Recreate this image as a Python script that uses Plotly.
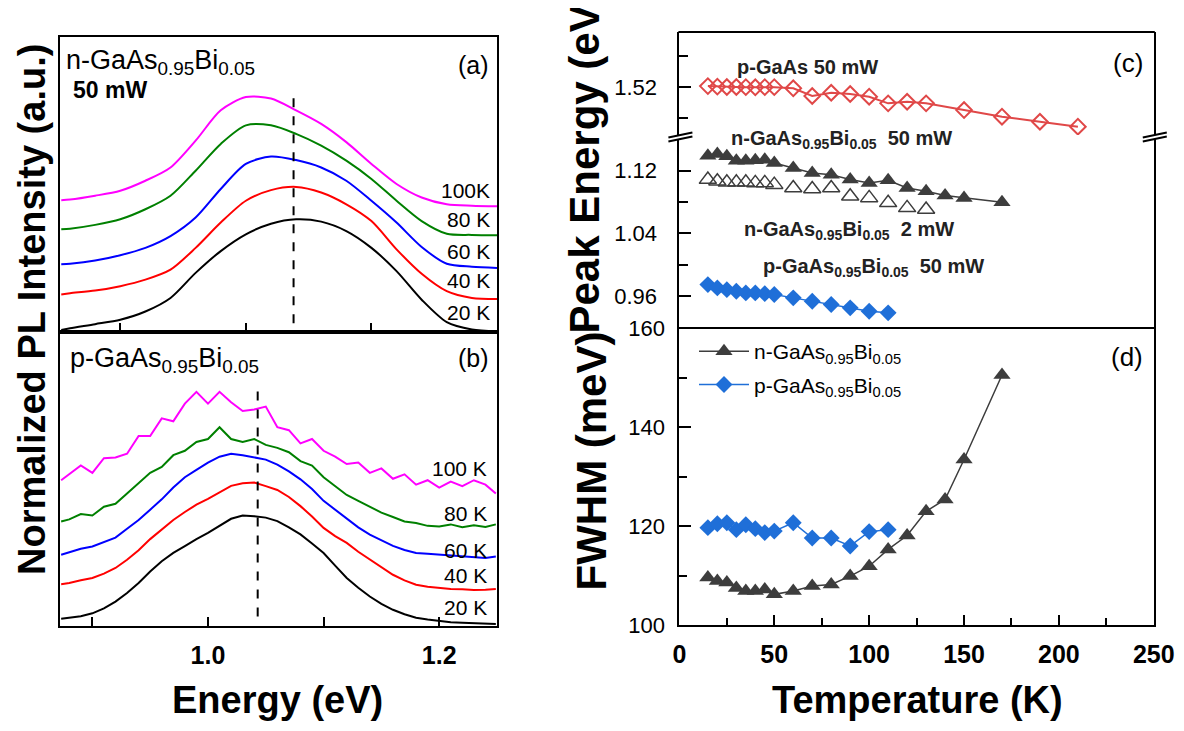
import plotly.graph_objects as go

W, H = 1184, 731
OFF = 8  # the page body margin shifts the figure by this many pixels
FONT = "Liberation Sans, Arial, Helvetica, sans-serif"

# ---------------- panel (a): n-GaAsBi PL spectra (normalized, offset) ----------------
E_a = [0.853, 0.86, 0.88, 0.90, 0.92, 0.94, 0.96, 0.98, 1.00, 1.02, 1.04, 1.06, 1.08,
       1.10, 1.12, 1.14, 1.16, 1.18, 1.20]
a_20K = [0.05, 0.11, 0.25, 0.40, 0.68, 1.14, 1.99, 2.73, 3.30, 3.66, 3.81, 3.73, 3.41,
         2.84, 2.05, 1.08, 0.32, 0.07, 0.0]
a_40K = [1.26, 1.30, 1.39, 1.54, 1.76, 2.10, 2.84, 3.70, 4.44, 4.80, 4.91, 4.72, 4.32,
         3.75, 2.79, 1.96, 1.37, 1.14, 1.10]
a_60K = [2.28, 2.30, 2.41, 2.59, 2.84, 3.24, 3.87, 4.84, 5.69, 5.94, 5.82, 5.57, 5.12,
         4.44, 3.70, 2.87, 2.30, 2.20, 2.16]
a_80K = [3.47, 3.49, 3.62, 3.81, 4.15, 4.61, 5.46, 6.37, 7.00, 7.00, 6.71, 6.31, 5.80,
         5.18, 4.44, 3.75, 3.32, 3.28, 3.27]
a_100K = [4.46, 4.48, 4.61, 4.78, 5.12, 5.57, 6.48, 7.51, 7.96, 7.91, 7.51, 7.05, 6.43,
          5.69, 5.01, 4.55, 4.32, 4.27, 4.25]
dash_a_E = [1.038, 1.038]
dash_a_I = [0.28, 8.19]

# ---------------- panel (b): p-GaAsBi PL spectra ----------------
E_b = [0.873, 0.88, 0.89, 0.90, 0.91, 0.92, 0.93, 0.94, 0.95, 0.96, 0.97, 0.98, 0.99,
       1.00, 1.01, 1.02, 1.03, 1.04, 1.05, 1.06, 1.07, 1.08, 1.09, 1.10, 1.11, 1.12,
       1.13, 1.14, 1.15, 1.16, 1.17, 1.18, 1.19, 1.20, 1.21, 1.22, 1.23, 1.24, 1.249]
b_20K = [0.25, 0.28, 0.33, 0.43, 0.60, 0.83, 1.12, 1.46, 1.85, 2.20, 2.48, 2.71, 2.95,
         3.16, 3.40, 3.64, 3.75, 3.73, 3.68, 3.56, 3.35, 3.11, 2.80, 2.48, 2.05, 1.63,
         1.30, 1.00, 0.75, 0.55, 0.40, 0.28, 0.22, 0.17, 0.13, 0.11, 0.09, 0.07, 0.07]
b_40K = [1.42, 1.46, 1.55, 1.63, 1.78, 1.97, 2.25, 2.57, 2.95, 3.28, 3.60, 3.87, 4.12,
         4.32, 4.55, 4.76, 4.85, 4.87, 4.75, 4.62, 4.38, 4.07, 3.72, 3.33, 3.05, 2.82,
         2.52, 2.25, 1.98, 1.74, 1.55, 1.40, 1.33, 1.29, 1.26, 1.25, 1.22, 1.23, 1.26]
b_60K = [2.42, 2.50, 2.62, 2.70, 2.85, 3.00, 3.30, 3.60, 3.95, 4.30, 4.70, 5.05, 5.30,
         5.55, 5.75, 5.85, 5.80, 5.72, 5.65, 5.48, 5.25, 4.98, 4.65, 4.25, 3.95, 3.62,
         3.35, 3.10, 2.90, 2.72, 2.58, 2.48, 2.45, 2.42, 2.38, 2.37, 2.33, 2.31, 2.36]
b_80K = [3.55, 3.62, 3.80, 3.75, 4.05, 4.15, 4.50, 4.85, 5.20, 5.40, 5.80, 5.95, 6.25,
         6.35, 6.75, 6.35, 6.25, 6.35, 6.15, 6.05, 5.90, 5.60, 5.45, 5.05, 4.75, 4.45,
         4.25, 4.05, 3.85, 3.70, 3.55, 3.50, 3.40, 3.38, 3.45, 3.35, 3.42, 3.36, 3.45]
b_100K = [4.95, 5.15, 5.45, 5.20, 5.70, 5.72, 5.85, 6.45, 6.45, 7.05, 6.95, 7.55, 7.95,
          7.55, 7.95, 7.60, 7.30, 7.35, 7.45, 6.75, 6.65, 6.20, 6.35, 5.95, 5.75, 5.50,
          5.55, 5.20, 5.35, 5.00, 5.15, 4.80, 4.95, 4.70, 4.90, 4.75, 4.95, 4.80, 4.50]
dash_b_E = [1.043, 1.043]
dash_b_I = [0.32, 8.23]

# ---------------- panel (c): peak energy vs temperature ----------------
T_pGaAs = [15, 20, 25, 30, 35, 40, 45, 50, 60, 70, 80, 90, 100, 110, 120, 130, 150, 170, 190, 210]
E_pGaAs = [1.5212, 1.5205, 1.5200, 1.5200, 1.5198, 1.5196, 1.5198, 1.5198, 1.5183, 1.5082,
           1.5125, 1.5108, 1.5073, 1.4986, 1.5007, 1.4986, 1.4898, 1.4811, 1.4745, 1.4680]
T_n = [15, 20, 25, 30, 35, 40, 45, 50, 60, 70, 80, 90, 100, 110, 120, 130, 140, 150, 170]
E_n50 = [1.1390, 1.1412, 1.1382, 1.1327, 1.1327, 1.1331, 1.1340, 1.1298, 1.1234, 1.1171,
         1.1149, 1.1086, 1.1044, 1.1077, 1.0980, 1.0937, 1.0883, 1.0853, 1.0798]
T_n2 = [15, 20, 25, 30, 35, 40, 45, 50, 60, 70, 80, 90, 100, 110, 120, 130]
E_n2 = [1.1086, 1.1064, 1.1051, 1.1051, 1.1051, 1.1044, 1.1044, 1.1022, 1.0980, 1.0967,
        1.0980, 1.0874, 1.0853, 1.0790, 1.0726, 1.0705]
T_p = [15, 20, 25, 30, 35, 40, 45, 50, 60, 70, 80, 90, 100, 110]
E_pBi = [0.9749, 0.9707, 0.9685, 0.9664, 0.9643, 0.9643, 0.9634, 0.9622, 0.9580, 0.9537,
         0.9495, 0.9453, 0.9410, 0.9389]

# ---------------- panel (d): FWHM vs temperature ----------------
FWHM_n = [109.6, 108.9, 108.6, 107.5, 106.9, 106.9, 107.2, 106.2, 106.9, 107.9, 108.2,
          109.9, 111.9, 115.3, 118.1, 123.0, 125.4, 133.5, 150.6]
FWHM_p = [119.7, 120.5, 120.7, 119.3, 120.3, 119.5, 118.7, 119.0, 120.7, 117.6, 117.6,
          116.0, 118.9, 119.3]

spectra_labels = ["20 K", "40 K", "60 K", "80 K", "100 K"]
spectra_colors = ["#000000", "#ff0000", "#0000ff", "#008000", "#ff00ff"]


# ---------------- geometry helpers (page pixels -> paper fractions) ----------------
def fx(p):
    return (p - OFF) / W


def fy(p):
    return 1 - (p - OFF) / H


LX0, LX1 = 60, 497
RX0, RX1 = 679.4, 1153.8

fig = go.Figure()

for ys, c in zip([a_20K, a_40K, a_60K, a_80K, a_100K], spectra_colors):
    fig.add_trace(go.Scatter(x=E_a, y=ys, xaxis="x", yaxis="y", mode="lines",
                             line=dict(color=c, width=2, shape="spline", smoothing=0.8),
                             showlegend=False))
fig.add_trace(go.Scatter(x=dash_a_E, y=dash_a_I, xaxis="x", yaxis="y", mode="lines",
                         line=dict(color="black", width=2, dash="dash"), showlegend=False))

for ys, c in zip([b_20K, b_40K, b_60K, b_80K, b_100K], spectra_colors):
    fig.add_trace(go.Scatter(x=E_b, y=ys, xaxis="x2", yaxis="y2", mode="lines",
                             line=dict(color=c, width=2), showlegend=False))
fig.add_trace(go.Scatter(x=dash_b_E, y=dash_b_I, xaxis="x2", yaxis="y2", mode="lines",
                         line=dict(color="black", width=2, dash="dash"), showlegend=False))

RED = "#e04848"
GREY = "#3d3d3d"
BLUE = "#1f6fd8"

fig.add_trace(go.Scatter(x=T_pGaAs, y=E_pGaAs, xaxis="x3", yaxis="y4", mode="lines+markers",
                         line=dict(color=RED, width=2),
                         marker=dict(symbol="diamond-open", size=12, color=RED,
                                     line=dict(color=RED, width=2)),
                         showlegend=False))
fig.add_trace(go.Scatter(x=T_n, y=E_n50, xaxis="x3", yaxis="y3", mode="lines+markers",
                         line=dict(color=GREY, width=1.5),
                         marker=dict(symbol="triangle-up", size=15, color=GREY),
                         showlegend=False))
fig.add_trace(go.Scatter(x=T_n2, y=E_n2, xaxis="x3", yaxis="y3", mode="markers",
                         marker=dict(symbol="triangle-up-open", size=15, color=GREY,
                                     line=dict(color=GREY, width=1.5)),
                         showlegend=False))
fig.add_trace(go.Scatter(x=T_p, y=E_pBi, xaxis="x3", yaxis="y3", mode="lines+markers",
                         line=dict(color=BLUE, width=1.5),
                         marker=dict(symbol="diamond", size=13, color=BLUE),
                         showlegend=False))

fig.add_trace(go.Scatter(x=T_n, y=FWHM_n, xaxis="x5", yaxis="y5", mode="lines+markers",
                         name="n-GaAs<sub>0.95</sub>Bi<sub>0.05</sub>", legendgroup="n",
                         line=dict(color=GREY, width=1.5),
                         marker=dict(symbol="triangle-up", size=15, color=GREY)))
fig.add_trace(go.Scatter(x=T_p, y=FWHM_p, xaxis="x5", yaxis="y5", mode="lines+markers",
                         name="p-GaAs<sub>0.95</sub>Bi<sub>0.05</sub>", legendgroup="p",
                         line=dict(color=BLUE, width=1.5),
                         marker=dict(symbol="diamond", size=13, color=BLUE)))

base = dict(showline=True, linecolor="black", linewidth=2, mirror=True, showgrid=False,
            zeroline=False, tickcolor="black", automargin=False)

xa = dict(base, domain=[fx(LX0), fx(LX1)], anchor="y", range=[0.852, 1.2], tick0=0, dtick=0.2,
          ticks="inside", ticklen=9, tickwidth=2, showticklabels=False,
          minor=dict(dtick=0.1, tick0=0, ticks="inside", ticklen=9, tickwidth=2, tickcolor="black"))
ya = dict(base, domain=[fy(331.5), fy(37)], anchor="x", range=[0, 10], ticks="",
          showticklabels=False)
xb = dict(base, domain=[fx(LX0), fx(LX1)], anchor="y2", range=[0.872, 1.25], tick0=0, dtick=0.2,
          tickformat=".1f", ticks="inside", ticklen=9, tickwidth=2,
          tickfont=dict(family=FONT, size=25, color="black", weight="bold"),
          ticklabelstandoff=6,
          minor=dict(dtick=0.1, tick0=0, ticks="inside", ticklen=9, tickwidth=2, tickcolor="black"))
yb = dict(base, domain=[fy(626), fy(331.5)], anchor="x2", range=[0, 10], ticks="",
          showticklabels=False)

xc = dict(showline=False, showgrid=False, zeroline=False, domain=[fx(RX0), fx(RX1)],
          anchor="y3", range=[0, 250], ticks="", showticklabels=False, automargin=False)
yc_low = dict(base, domain=[fy(328.5), fy(139)], anchor="x3", range=[0.919, 1.1603],
              tickmode="array", tickvals=[0.96, 1.04, 1.12], ticktext=["0.96", "1.04", "1.12"],
              ticks="inside", ticklen=12, tickwidth=2,
              tickfont=dict(family=FONT, size=22, color="black"), ticklabelstandoff=16,
              minor=dict(tickmode="array", tickvals=[1.00, 1.08], ticks="inside", ticklen=9,
                         tickwidth=2, tickcolor="black"))
yc_up = dict(base, domain=[fy(135), fy(32)], anchor="x3", range=[1.4571, 1.5921],
             tickmode="array", tickvals=[1.52], ticktext=["1.52"],
             ticks="inside", ticklen=12, tickwidth=2,
             tickfont=dict(family=FONT, size=22, color="black"), ticklabelstandoff=16,
             minor=dict(tickmode="array", tickvals=[1.48, 1.56], ticks="inside", ticklen=9,
                        tickwidth=2, tickcolor="black"))
xd = dict(base, domain=[fx(RX0), fx(RX1)], anchor="y5", range=[0, 250], tick0=0, dtick=50,
          ticks="inside", ticklen=10, tickwidth=2,
          tickfont=dict(family=FONT, size=25, color="black", weight="bold"),
          ticklabelstandoff=6,
          minor=dict(dtick=25, tick0=0, ticks="inside", ticklen=7, tickwidth=2, tickcolor="black"))
yd = dict(base, domain=[fy(625), fy(328.5)], anchor="x5", range=[100, 160], tick0=0, dtick=20,
          ticks="inside", ticklen=12, tickwidth=2,
          tickfont=dict(family=FONT, size=22, color="black"), ticklabelstandoff=8,
          minor=dict(dtick=10, tick0=0, ticks="inside", ticklen=8, tickwidth=2, tickcolor="black"))

SUBN = "n-GaAs<sub>0.95</sub>Bi<sub>0.05</sub>"
SUBP = "p-GaAs<sub>0.95</sub>Bi<sub>0.05</sub>"


def ann(text, x, y, size, xanchor="left", yanchor="middle", bold=False, angle=0, color="black"):
    return dict(text=text, x=fx(x), y=fy(y), xref="paper", yref="paper", showarrow=False,
                xanchor=xanchor, yanchor=yanchor, textangle=angle,
                font=dict(family=FONT, size=size, color=color,
                          weight="bold" if bold else "normal"))


annotations = [
    # axis titles
    ann("Normalized PL Intensity (a.u.)", 32, 310, 38, "center", "middle", True, -90),
    ann("Peak Energy (eV)", 584, 336, 42, "center", "bottom", True, -90),
    ann("FWHM (meV)", 591, 593, 42, "center", "bottom", True, -90),
    ann("Energy (eV)", 277, 700, 38, "center", "middle", True),
    ann("Temperature (K)", 917, 700, 38, "center", "middle", True),
    # panel (a)
    ann(SUBN, 64, 62, 27, "left"),
    ann("50 mW", 71, 90, 23, "left", bold=True),
    ann("(a)", 491, 65, 25, "right"),
    # panel (b)
    ann(SUBP, 68, 360, 27, "left"),
    ann("(b)", 491, 358, 25, "right"),
    # panel (c)
    ann("(c)", 1145, 63, 26, "right"),
    ann("p-GaAs 50 mW", 735, 67, 20, "left", bold=True, color="#222222"),
    ann(SUBN + "  50 mW", 729, 140, 20, "left", bold=True, color="#222222"),
    ann(SUBN + "  2 mW", 742, 230, 20, "left", bold=True, color="#222222"),
    ann(SUBP + "  50 mW", 761, 267, 20, "left", bold=True, color="#222222"),
    # panel (d)
    ann("(d)", 1145, 357, 26, "right"),
]
a_label_y = [312, 280, 252, 220, 190]
b_label_y = [607, 575, 550, 513, 468]
for lab, y in zip(spectra_labels, a_label_y):
    annotations.append(ann(lab.replace("100 K", "100K"), 492, y, 21, "right"))
for lab, y in zip(spectra_labels, b_label_y):
    annotations.append(ann(lab, 489, y, 21, "right"))


def pline(x0, y0, x1, y1, w=2):
    return dict(type="line", xref="paper", yref="paper", x0=fx(x0), y0=fy(y0), x1=fx(x1),
                y1=fy(y1), line=dict(color="black", width=w))


shapes = [
    pline(RX0 - 1, 32, RX1 + 1, 32),
    # axis break marks (left and right)
    pline(RX0 - 11, 137.5, RX0 + 13, 132.5),
    pline(RX0 - 11, 141.5, RX0 + 13, 136.5),
    pline(RX1 - 11, 137.5, RX1 + 13, 132.5),
    pline(RX1 - 11, 141.5, RX1 + 13, 136.5),
]

fig.update_layout(
    template="none",
    width=W, height=H, margin=dict(l=0, r=0, t=0, b=0, pad=0, autoexpand=False),
    paper_bgcolor="white", plot_bgcolor="white",
    font=dict(family=FONT, color="black"),
    xaxis=xa, yaxis=ya, xaxis2=xb, yaxis2=yb,
    xaxis3=xc, yaxis3=yc_low, yaxis4=yc_up,
    xaxis5=xd, yaxis5=yd,
    annotations=annotations, shapes=shapes,
    showlegend=True,
    legend=dict(x=fx(694), y=fy(331), xanchor="left", yanchor="top",
                bgcolor="rgba(0,0,0,0)", font=dict(family=FONT, size=21, color="black"),
                itemwidth=50, tracegroupgap=3),
)

fig.write_html("out.html")
